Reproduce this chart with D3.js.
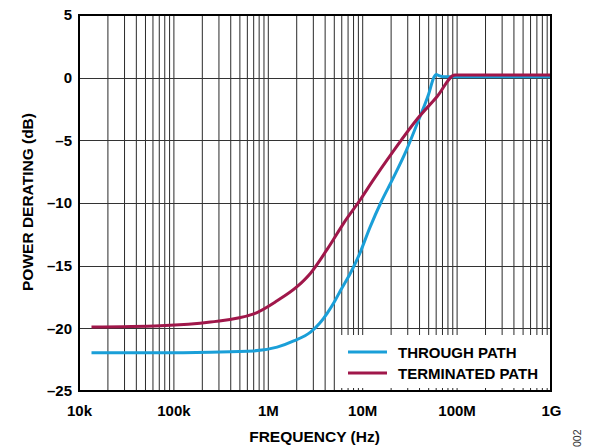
<!DOCTYPE html>
<html>
<head>
<meta charset="utf-8">
<script src="https://cdn.jsdelivr.net/npm/d3@7"></script>
<style>
  body { margin: 0; background: #fff; }
  svg { font-family: 'Liberation Sans', Arial, Helvetica, sans-serif; }
  .tick-label { font-size: 15px; font-weight: bold; fill: #000; }
  .axis-label { font-size: 15.5px; font-weight: bold; fill: #000; }
  .legend-text { font-size: 15px; font-weight: bold; fill: #000; }
</style>
</head>
<body>
<svg width="589" height="447"></svg>
<script>
// frequencies in Hz, values in dB
const throughFreq = [13.4e3, 70e3, 244e3, 700e3, 1.24e6, 1.86e6, 2.8e6, 3.5e6, 4.2e6, 5e6, 5.8e6, 7.4e6, 9.1e6, 12e6, 15.5e6, 21.4e6, 29e6, 39.5e6, 50e6, 57e6, 60e6, 65e6, 72e6, 1e9];
const throughDb   = [-21.95, -21.95, -21.9, -21.8, -21.5, -21.0, -20.3, -19.6, -18.8, -17.9, -17.0, -15.6, -14.2, -11.9, -10.0, -7.9, -5.8, -3.3, -1.3, 0.05, 0.25, 0.15, 0.08, 0.08];

const terminatedFreq = [13.4e3, 72e3, 244e3, 700e3, 1.24e6, 2e6, 2.8e6, 4.2e6, 6.3e6, 9.5e6, 12.6e6, 15.5e6, 21.4e6, 37.8e6, 61.5e6, 95e6, 1e9];
const terminatedDb   = [-19.9, -19.8, -19.5, -18.85, -17.8, -16.7, -15.6, -13.7, -11.6, -9.7, -8.3, -7.3, -5.8, -3.3, -1.5, 0.22, 0.22];

const xTickValues = [1e4, 1e5, 1e6, 1e7, 1e8, 1e9];
const xTickLabels = ['10k', '100k', '1M', '10M', '100M', '1G'];
const yTickValues = [5, 0, -5, -10, -15, -20, -25];
const yTickLabels = ['5', '0', '–5', '–10', '–15', '–20', '–25'];

const seriesNames = ['THROUGH PATH', 'TERMINATED PATH'];
const seriesColors = ['#1a9fd8', '#a0174a'];

function whenLoaded(){

    const svg = d3.select('svg');

    const margin = {top:15,right:38,bottom:56,left:79.5}
    const innerWidth = 472;
    const innerHeight = 376;

    const xScale = d3.scaleLog()
    .domain([1e4, 1e9])
    .range([0, innerWidth]);

    const yScale = d3.scaleLinear()
    .domain([5, -25])
    .range([0, innerHeight]);

    const g = svg.append('g')
    .attr('transform',`translate(${margin.left},${margin.top})`);

    // vertical grid: every 1..9 of each decade
    const gridX = [];
    for (let e = 4; e < 9; e++) {
        for (let m = 1; m <= 9; m++) {
            if (e === 4 && m === 1) continue;
            gridX.push(m * Math.pow(10, e));
        }
    }

    g.selectAll('.vgrid').data(gridX)
    .enter().append('line')
    .attr('class','vgrid')
    .attr('x1', d => xScale(d))
    .attr('x2', d => xScale(d))
    .attr('y1', 0)
    .attr('y2', innerHeight)
    .attr('stroke','#2a2a2a')
    .attr('stroke-width',1);

    g.selectAll('.hgrid').data(yTickValues.filter(v => v < 5 && v > -25))
    .enter().append('line')
    .attr('class','hgrid')
    .attr('x1', 0)
    .attr('x2', innerWidth)
    .attr('y1', d => Math.round(yScale(d)) + 0.5)
    .attr('y2', d => Math.round(yScale(d)) + 0.5)
    .attr('stroke','#333')
    .attr('stroke-width',1);

    // legend box covers the grid
    const legend = g.append('g')
    .attr('transform',`translate(${335 - margin.left},${335 - margin.top})`);

    legend.append('rect')
    .attr('width', innerWidth - (335 - margin.left))
    .attr('height', 53)
    .attr('fill','#fff');

    // curves
    const line = d3.line()
    .x(d => xScale(d[0]))
    .y(d => yScale(d[1]))
    .curve(d3.curveMonotoneX);

    const series = [
        d3.zip(throughFreq, throughDb),
        d3.zip(terminatedFreq, terminatedDb)
    ];

    g.selectAll('.curve').data(series)
    .enter().append('path')
    .attr('class','curve')
    .attr('d', line)
    .attr('fill','none')
    .attr('stroke', (d, i) => seriesColors[i])
    .attr('stroke-width', 3)
    .attr('stroke-linejoin','round');

    seriesNames.forEach((name, i) => {
        const yy = 17 + i * 21;
        legend.append('line')
        .attr('x1', 13).attr('x2', 52)
        .attr('y1', yy).attr('y2', yy)
        .attr('stroke', seriesColors[i])
        .attr('stroke-width', 3);
        legend.append('text')
        .attr('class','legend-text')
        .attr('x', 63)
        .attr('y', yy + 6)
        .text(name);
    });

    // frame
    g.append('rect')
    .attr('x', -0.5)
    .attr('y', 0)
    .attr('width', innerWidth)
    .attr('height', innerHeight)
    .attr('fill','none')
    .attr('stroke','#000')
    .attr('stroke-width', 2);

    // tick labels
    g.selectAll('.ytick').data(yTickValues)
    .enter().append('text')
    .attr('class','tick-label ytick')
    .attr('x', -7.5)
    .attr('y', d => yScale(d))
    .attr('dy','0.36em')
    .style('text-anchor','end')
    .text((d, i) => yTickLabels[i]);

    g.selectAll('.xtick').data(xTickValues)
    .enter().append('text')
    .attr('class','tick-label xtick')
    .attr('x', d => xScale(d))
    .attr('y', innerHeight + 25)
    .style('text-anchor','middle')
    .text((d, i) => xTickLabels[i]);

    // axis titles
    g.append('text')
    .attr('class','axis-label')
    .attr('x', innerWidth / 2 - 1)
    .attr('y', innerHeight + 51)
    .style('text-anchor','middle')
    .text('FREQUENCY (Hz)');

    g.append('text')
    .attr('class','axis-label')
    .attr('transform','rotate(-90)')
    .attr('x', -(202 - margin.top))
    .attr('y', -47)
    .style('text-anchor','middle')
    .text('POWER DERATING (dB)');

    // figure id, cut at the bottom edge
    svg.append('text')
    .attr('transform','translate(581,447) rotate(-90)')
    .attr('font-size', 10.5)
    .attr('fill','#333')
    .text('002');
}

window.onload = whenLoaded;
</script>
</body>
</html>
